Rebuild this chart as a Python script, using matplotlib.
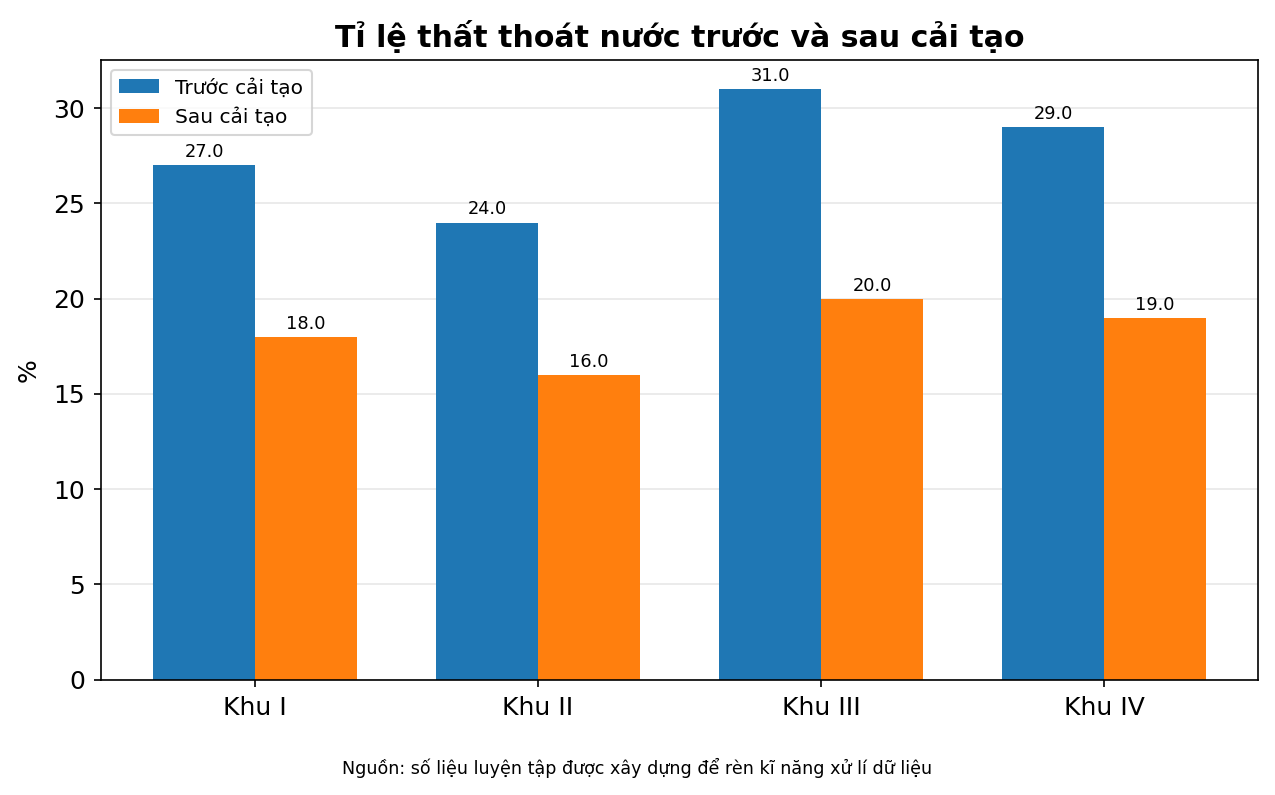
import matplotlib.pyplot as plt
import numpy as np

khu = ["Khu I", "Khu II", "Khu III", "Khu IV"]
truoc = [27.0, 24.0, 31.0, 29.0]
sau = [18.0, 16.0, 20.0, 19.0]

x = np.arange(len(khu))
w = 0.36

fig, ax = plt.subplots(figsize=(8.5, 5.3), dpi=150)
fig.subplots_adjust(left=0.079, right=0.987, top=0.925, bottom=0.145)

b1 = ax.bar(x - w / 2, truoc, w, label="Trước cải tạo", color="#1f77b4")
b2 = ax.bar(x + w / 2, sau, w, label="Sau cải tạo", color="#ff7f0e")
ax.bar_label(b1, fmt="%.1f", padding=2, fontsize=8.5)
ax.bar_label(b2, fmt="%.1f", padding=2, fontsize=8.5)

ax.set_xticks(x)
ax.set_xticklabels(khu, fontsize=12)
ax.tick_params(axis="x", pad=4.5)
ax.tick_params(axis="y", labelsize=12, pad=4)
ax.set_ylabel("%", fontsize=12, labelpad=6)
ax.set_title("Tỉ lệ thất thoát nước trước và sau cải tạo", fontsize=14.4, fontweight="bold")
ax.grid(axis="y", alpha=0.3)
ax.set_axisbelow(True)
ax.legend(loc="upper left", fontsize=9.7)

fig.text(0.5, 0.027, "Nguồn: số liệu luyện tập được xây dựng để rèn kĩ năng xử lí dữ liệu",
         ha="center", fontsize=8.4)

fig.savefig("out.png")
